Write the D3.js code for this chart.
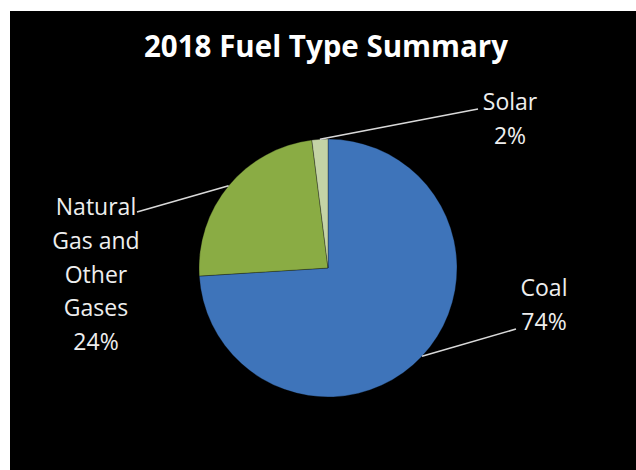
<!DOCTYPE html>
<html>
<head>
<meta charset="utf-8">
<script src="https://cdn.jsdelivr.net/npm/d3@7"></script>
<style>
  body { margin: 0; background: #fff; }
  text { font-family: 'Open Sans', sans-serif; }
</style>
</head>
<body>
<svg></svg>
<script>
// data
const categories = ['Coal', 'Natural Gas and Other Gases', 'Solar']
const values = [74, 24, 2]
const labelLines = [
  ['Coal', '74%'],
  ['Natural', 'Gas and', 'Other', 'Gases', '24%'],
  ['Solar', '2%']
]

const colors = ['#4d89d2', '#9fc154', '#dbe7c2']
const colorsDark = ['#3e74ba', '#8aac44', '#c4d3a6']

// label layout: centre x, first baseline y, line end point
const labelPos = [
  { x: 544, y: 296, lx: 516, ly: 329 },
  { x: 96, y: 215, lx: 137, ly: 212 },
  { x: 510, y: 110, lx: 478, ly: 109 }
]

const width = 636
const height = 470
const cx = 328
const cy = 268
const radius = 129

const svg = d3.select('svg')
  .attr('width', width)
  .attr('height', height)

// black plot area
svg.append('rect')
  .attr('x', 10)
  .attr('y', 11)
  .attr('width', width - 10)
  .attr('height', height - 11)
  .attr('fill', '#000')

const defs = svg.append('defs')
colors.forEach((c, i) => {
  const g = defs.append('radialGradient')
    .attr('id', 'grad' + i)
    .attr('gradientUnits', 'userSpaceOnUse')
    .attr('cx', cx - 30)
    .attr('cy', cy - 50)
    .attr('r', radius * 1.5)
  g.append('stop').attr('offset', '0%').attr('stop-color', c)
  g.append('stop').attr('offset', '100%').attr('stop-color', colorsDark[i])
})

const pie = d3.pie().sort(null)
const arcs = pie(values)

const arc = d3.arc().innerRadius(0).outerRadius(radius)
const edge = d3.arc().innerRadius(radius).outerRadius(radius)

const chart = svg.append('g')
  .attr('transform', `translate(${cx},${cy})`)

chart.selectAll('path')
  .data(arcs)
  .enter().append('path')
  .attr('d', arc)
  .attr('fill', (d, i) => `url(#grad${i})`)
  .attr('stroke', 'rgba(0,0,0,0.3)')
  .attr('stroke-width', 1)

// leader lines
svg.append('g')
  .selectAll('line')
  .data(arcs)
  .enter().append('line')
  .attr('x1', d => cx + edge.centroid(d)[0])
  .attr('y1', d => cy + edge.centroid(d)[1])
  .attr('x2', (d, i) => labelPos[i].lx)
  .attr('y2', (d, i) => labelPos[i].ly)
  .attr('stroke', '#d9d9d9')
  .attr('stroke-width', 1.6)

// labels
const labels = svg.append('g')
  .attr('fill', '#eeeeee')
  .attr('font-size', '23px')
  .attr('text-anchor', 'middle')

labelLines.forEach((lines, i) => {
  const t = labels.append('text')
    .attr('x', labelPos[i].x)
    .attr('y', labelPos[i].y)
  lines.forEach((line, j) => {
    t.append('tspan')
      .attr('x', labelPos[i].x)
      .attr('dy', j === 0 ? 0 : 33.8)
      .text(line)
  })
})

// title
svg.append('text')
  .attr('x', 326)
  .attr('y', 57)
  .attr('text-anchor', 'middle')
  .attr('fill', '#fff')
  .attr('font-weight', 'bold')
  .attr('font-size', '29.5px')
  .text('2018 Fuel Type Summary')
</script>
</body>
</html>
